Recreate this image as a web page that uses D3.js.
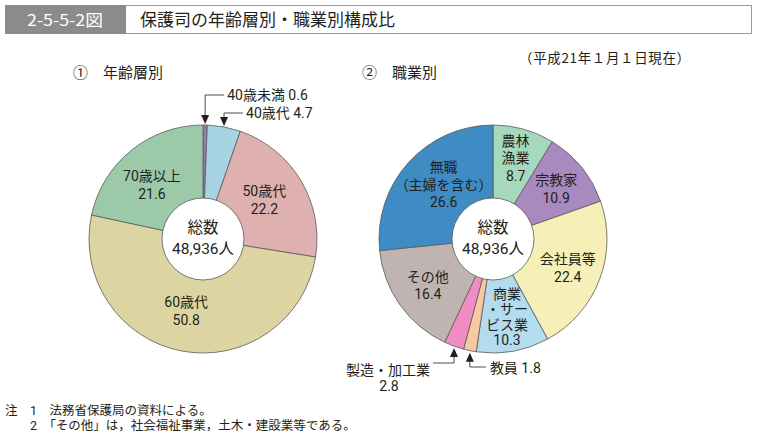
<!DOCTYPE html>
<html><head><meta charset="utf-8">
<script src="https://cdn.jsdelivr.net/npm/d3@7"></script>
<style>
body{margin:0;background:#fff;}
svg text{font-family:"Noto Sans CJK JP","Noto Sans",sans-serif;fill:#231f20;}
svg text.lb{font-family:Roboto,"Noto Sans CJK JP",sans-serif;}
</style></head><body>
<svg id="c" width="759" height="437"></svg>
<script>
// ---- data ----
const ageCategories = ["40歳未満","40歳代","50歳代","60歳代","70歳以上"];
const ageValues = [0.6, 4.7, 22.2, 50.8, 21.6];
const ageColors = ["#9a7ab0","#a8d3e2","#dfb0b0","#dcd5a2","#9ccaa9"];

const jobCategories = ["農林漁業","宗教家","会社員等","商業・サービス業","教員","製造・加工業","その他","無職（主婦を含む）"];
const jobLabelLines = [["農林","漁業"],["宗教家"],["会社員等"],["商業","・サー","ビス業"],["教員"],["製造・加工業"],["その他"],["無職","（主婦を含む）"]];
const jobValues = [8.7, 10.9, 22.4, 10.3, 1.8, 2.8, 16.4, 26.6];
const jobColors = ["#a6d8bb","#a98ac0","#f6f0b8","#b3dcef","#f6c9a1","#ef8cc1","#c0b4b3","#3f8bc4"];

const totalLabel = ["総数","48,936人"];
const titleNo = "2-5-5-2図";
const titleText = "保護司の年齢層別・職業別構成比";
const dateNote = "（平成21年１月１日現在）";
const panelTitles = ["①　年齢層別","②　職業別"];
const notes = ["注　1　法務省保護局の資料による。","　　2　「その他」は，社会福祉事業，土木・建設業等である。"];

// ---- layout ----
const svg = d3.select("#c");
const R = 114, r0 = 41;
const fmt = d3.format(".1f");

// title bar
svg.append("rect").attr("x",5.5).attr("y",5.5).attr("width",746).attr("height",28).attr("fill","#fff").attr("stroke","#9a9a9a");
svg.append("rect").attr("x",5).attr("y",5).attr("width",121).attr("height",29).attr("fill","#8b8b8b");
svg.append("text").attr("x",65).attr("y",25.5).attr("text-anchor","middle").style("fill","#fff").attr("font-size",16)
  .attr("textLength",76).attr("lengthAdjust","spacingAndGlyphs").text(titleNo);
svg.append("text").attr("x",140).attr("y",26).attr("font-size",17).text(titleText);
svg.append("text").attr("x",519).attr("y",63).attr("font-size",13.5).attr("textLength",171).text(dateNote);
svg.append("text").attr("x",73).attr("y",78).attr("font-size",15).text(panelTitles[0]);
svg.append("text").attr("x",362).attr("y",78).attr("font-size",15).text(panelTitles[1]);
const nt = svg.append("text").attr("class","lb").attr("y",415).attr("font-size",12.5);
notes.forEach((t,i)=>nt.append("tspan").attr("x",5).attr("dy",i?15:0).text(t));

function multiText(g, x, y, lines, lh, fs, anchor){
  const t = g.append("text").attr("class","lb").attr("text-anchor",anchor||"middle").attr("font-size",fs)
    .attr("y", y - (lines.length-1)/2*lh + fs*0.38);
  lines.forEach((s,k)=>t.append("tspan").attr("x",x).attr("dy",k?lh:0).text(s));
  return t;
}

function donut(cx, cy, values, colors, labelLines, labelR, skip, nudge, lh){
  const g = svg.append("g").attr("transform",`translate(${cx},${cy})`);
  const pie = d3.pie().sort(null).value(d=>d)(values);
  const arc = d3.arc().innerRadius(0).outerRadius(R);
  g.selectAll("path.s").data(pie).join("path").attr("class","s")
    .attr("d",arc).attr("fill",(d,i)=>colors[i]).attr("stroke","#5a5a5a").attr("stroke-width",0.8);
  g.append("circle").attr("r",r0).attr("fill","#fff").attr("stroke","#5a5a5a").attr("stroke-width",0.8);
  multiText(g, 0, -1, totalLabel, 21, 15.5);
  const la = d3.arc().innerRadius(labelR).outerRadius(labelR);
  pie.forEach((d,i)=>{
    if(skip.includes(i)) return;
    const [x,y] = la.centroid(d);
    const nd = nudge[i]||[0,0];
    multiText(g, x+nd[0], y+nd[1], labelLines[i].concat([fmt(values[i])]), lh[i]||17.5, 14);
  });
  return {g, pie};
}

function arrowDown(g, x, yTip){
  g.append("path").attr("d",`M${x-4},${yTip-9}L${x+4},${yTip-9}L${x},${yTip}Z`).attr("fill","#231f20");
}
function arrowUp(g, x, yTip){
  g.append("path").attr("d",`M${x-4},${yTip+9}L${x+4},${yTip+9}L${x},${yTip}Z`).attr("fill","#231f20");
}

// left donut
const L = donut(203, 239, ageValues, ageColors, ageCategories.map(c=>[c]), 75, [0,1], {4:[-4,4],2:[-3,-1],3:[-3,-2]}, {});
(function(){
  const g = L.g, p = L.pie;
  const oa = d3.arc().innerRadius(R).outerRadius(R);
  let [x0,y0] = oa.centroid(p[0]);
  g.append("path").attr("d",`M${x0},${y0-4}V${-144}H${x0+19}`).attr("fill","none").attr("stroke","#231f20").attr("stroke-width",0.8);
  arrowDown(g,x0,y0-1);
  g.append("text").attr("class","lb").attr("x",x0+22).attr("y",-139).attr("font-size",14).text(ageCategories[0]+" "+fmt(ageValues[0]));
  let [x1,y1] = oa.centroid(p[1]);
  g.append("path").attr("d",`M${x1},${y1-4}V${-126}H${x1+19}`).attr("fill","none").attr("stroke","#231f20").attr("stroke-width",0.8);
  arrowDown(g,x1,y1-1);
  g.append("text").attr("class","lb").attr("x",x1+22).attr("y",-121).attr("font-size",14).text(ageCategories[1]+" "+fmt(ageValues[1]));
})();

// right donut
const Rt = donut(493, 239, jobValues, jobColors, jobLabelLines, 80, [4,5], {0:[1,-4],3:[0,-1],7:[10,-1],1:[1,0]}, {3:15.5});
(function(){
  const g = Rt.g, p = Rt.pie;
  const oa = d3.arc().innerRadius(R).outerRadius(R);
  let [x5,y5] = oa.centroid(p[5]);
  g.append("path").attr("d",`M${x5},${y5+6}V${124}H${x5-21}`).attr("fill","none").attr("stroke","#231f20").attr("stroke-width",0.8);
  arrowUp(g,x5,y5+2);
  multiText(g, x5-24, 131, [jobLabelLines[5][0]], 17, 14, "end");
  multiText(g, x5-65, 147, [fmt(jobValues[5])], 17, 14);
  let [x4,y4] = oa.centroid(p[4]);
  g.append("path").attr("d",`M${x4},${y4+6}V${128}H${x4+16}`).attr("fill","none").attr("stroke","#231f20").attr("stroke-width",0.8);
  arrowUp(g,x4,y4+2);
  multiText(g, x4+20, 129, [jobLabelLines[4][0]+" "+fmt(jobValues[4])], 17, 14, "start");
})();
</script></body></html>
